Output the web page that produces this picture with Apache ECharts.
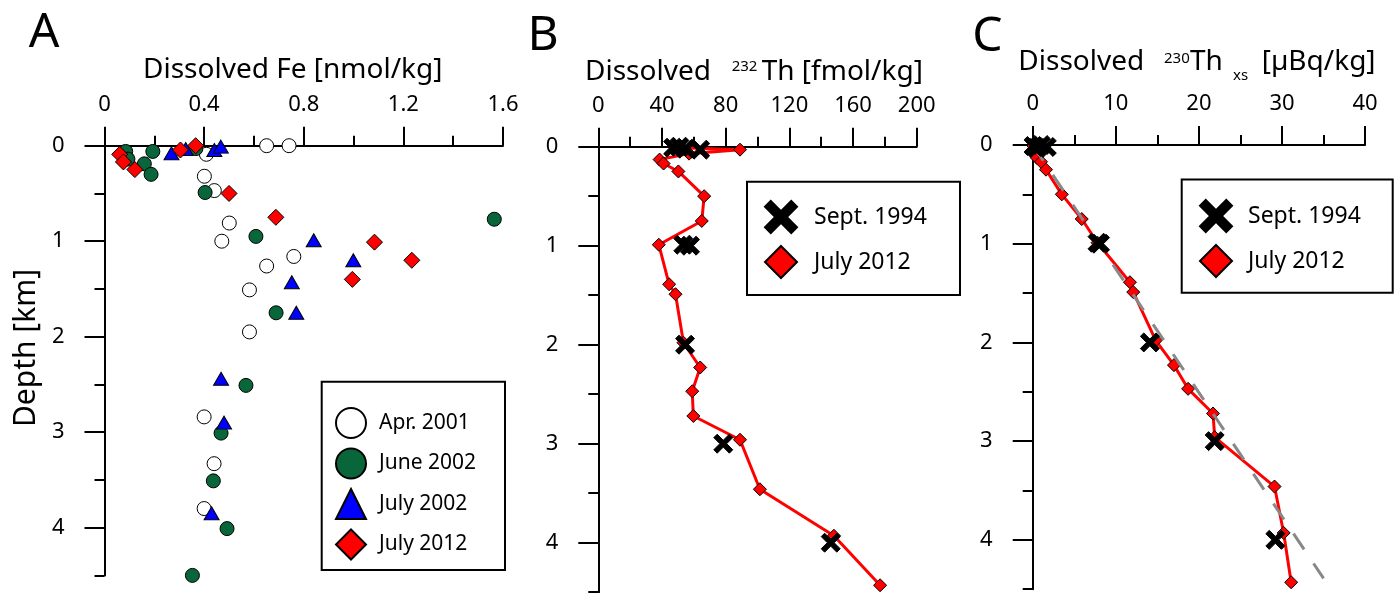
<!DOCTYPE html>
<html>
<head>
<meta charset="utf-8">
<script src="https://cdn.jsdelivr.net/npm/echarts@6/dist/echarts.min.js"></script>
<style>
  html, body { margin: 0; padding: 0; background: #fff; }
  #chart { width: 1394px; height: 593px; }
</style>
</head>
<body>
<div id="chart"></div>
<script>
// Panel A: dissolved Fe (nmol/kg) vs depth (km)
const feApr2001 = [0.651, 0.741, 0.409, 0.401, 0.441, 0.501, 0.471, 0.760, 0.651, 0.582, 0.582, 0.400, 0.440, 0.400];
const depthApr2001 = [0.00, 0.00, 0.09, 0.32, 0.47, 0.81, 1.00, 1.16, 1.26, 1.51, 1.95, 2.84, 3.33, 3.80];
const feJune2002 = [0.085, 0.094, 0.194, 0.160, 0.187, 0.367, 0.404, 1.565, 0.608, 0.689, 0.568, 0.468, 0.437, 0.492, 0.353];
const depthJune2002 = [0.06, 0.14, 0.06, 0.19, 0.30, 0.03, 0.49, 0.77, 0.95, 1.75, 2.51, 3.01, 3.51, 4.01, 4.50];
const feJuly2002 = [0.269, 0.326, 0.441, 0.467, 0.840, 0.999, 0.752, 0.770, 0.468, 0.480, 0.430];
const depthJuly2002 = [0.08, 0.035, 0.045, 0.01, 0.99, 1.20, 1.43, 1.75, 2.44, 2.90, 3.85];
const feJuly2012 = [0.061, 0.076, 0.122, 0.305, 0.366, 0.500, 0.688, 1.084, 1.234, 0.995];
const depthFeJuly2012 = [0.09, 0.17, 0.25, 0.045, 0.00, 0.50, 0.75, 1.01, 1.20, 1.40];

// Panels B and C: 232Th (fmol/kg) and 230Th xs (uBq/kg)
const depth1994 = [0.00, 0.01, 0.02, 0.03, 0.99, 1.00, 2.00, 3.00, 4.00];
const th232_1994 = [51, 47, 55, 64, 53.4, 57.6, 54.5, 78.5, 146];
const th230_1994 = [1.0, 0.1, 1.7, 0.5, 7.8, 8.1, 14.1, 21.9, 29.2];
const depth2012 = [0.01, 0.03, 0.07, 0.13, 0.17, 0.25, 0.50, 0.75, 0.99, 1.39, 1.49, 1.98, 2.23, 2.47, 2.72, 2.96, 3.46, 3.93, 4.43];
const th232_2012 = [52, 89, 57, 38.5, 41, 50.3, 66.5, 65, 38, 44.5, 48.5, 53.5, 64, 59, 59.7, 89, 101.5, 148, 177];
const th230_2012 = [0.1, 0.2, 0.3, 0.5, 1.0, 1.6, 3.5, 5.9, 7.8, 11.7, 12.1, 14.8, 17.0, 18.7, 21.7, 21.9, 29.1, 30.2, 31.1];
// grey dashed reversible-scavenging line in C
const trendTh230 = [0, 35];
const trendDepth = [0, 4.39];

// axis ticks
const depthLabels = [0, 1, 2, 3, 4];

const FONT = 'Noto Sans';
const BLACK = '#000';
const CROSS = 'path://M0,18 L18,0 L50,32 L82,0 L100,18 L68,50 L100,82 L82,100 L50,68 L18,100 L0,82 L32,50 Z';

function pairs(xs, ys) {
  return xs.map((x, i) => [x, ys[i]]);
}

function xAxisFor(grid, max, interval) {
  return {
    gridIndex: grid, type: 'value', position: 'top', min: 0, max: max, interval: interval,
    axisLine: { onZero: false, lineStyle: { color: BLACK, width: 2 } },
    axisTick: { length: 19, lineStyle: { color: BLACK, width: 2 } },
    minorTick: { show: true, splitNumber: 2, length: 10, lineStyle: { color: BLACK, width: 2 } },
    axisLabel: { color: BLACK, fontSize: 22, fontFamily: FONT, margin: 30 },
    splitLine: { show: false }, minorSplitLine: { show: false }
  };
}

// two y axes per grid: long ticks + labels at whole km, short ticks every 0.5 km
function yAxesFor(grid) {
  return [{
    gridIndex: grid, type: 'value', position: 'left', inverse: true, min: 0, max: 4.5, interval: 0.5,
    axisLine: { onZero: false, lineStyle: { color: BLACK, width: 2 } },
    axisTick: { customValues: depthLabels, length: 20, lineStyle: { color: BLACK, width: 2 } },
    axisLabel: { customValues: depthLabels, color: BLACK, fontSize: 22, fontFamily: FONT, margin: 40 },
    splitLine: { show: false }
  }, {
    gridIndex: grid, type: 'value', position: 'left', inverse: true, min: 0, max: 4.5, interval: 0.5,
    axisLine: { show: false },
    axisTick: { length: 10, lineStyle: { color: BLACK, width: 2 } },
    axisLabel: { show: false },
    splitLine: { show: false }
  }];
}

function scatter(name, xi, yi, data, symbol, size, color, z) {
  return {
    name: name, type: 'scatter', xAxisIndex: xi, yAxisIndex: yi, data: data, clip: false,
    symbol: symbol, symbolSize: size, z: z || 2,
    itemStyle: { color: color, borderColor: BLACK, borderWidth: 1, opacity: 1 }
  };
}

function txt(x, y, text, size, align, extra) {
  return Object.assign({
    type: 'text', x: x, y: y,
    style: { text: text, fontSize: size, fontFamily: FONT, fill: BLACK, align: align || 'left', verticalAlign: 'middle' }
  }, extra || {});
}

function box(x, y, w, h) {
  return { type: 'rect', shape: { x: x, y: y, width: w, height: h },
    style: { fill: 'transparent', stroke: BLACK, lineWidth: 2 } };
}

const chart = echarts.init(document.getElementById('chart'), null, { renderer: 'canvas' });

const option = {
  animation: false,
  grid: [
    { left: 104.5, top: 145.7, width: 398.5, height: 429.7 },
    { left: 598.3, top: 146.7, width: 318.4, height: 445.5 },
    { left: 1032.7, top: 145, width: 332.4, height: 444.2 }
  ],
  xAxis: [xAxisFor(0, 1.6, 0.4), xAxisFor(1, 200, 40), xAxisFor(2, 40, 10)],
  yAxis: [].concat(yAxesFor(0), yAxesFor(1), yAxesFor(2)),
  legend: [{
    orient: 'vertical', left: 335, top: 407, padding: 0, itemWidth: 30, itemHeight: 30, itemGap: 8.5,
    textStyle: { fontSize: 21, fontFamily: FONT, color: BLACK, padding: [0, 0, 0, 8] },
    data: ['Apr. 2001', 'June 2002', 'July 2002', 'July 2012']
  }, {
    orient: 'vertical', left: 764, top: 200, padding: 0, itemWidth: 32, itemHeight: 32, itemGap: 11,
    textStyle: { fontSize: 23, fontFamily: FONT, color: BLACK, padding: [0, 0, 0, 12] },
    data: ['Sept. 1994', 'July 2012']
  }, {
    orient: 'vertical', left: 1199, top: 199, padding: 0, itemWidth: 32, itemHeight: 32, itemGap: 11,
    textStyle: { fontSize: 23, fontFamily: FONT, color: BLACK, padding: [0, 0, 0, 11] },
    data: ['Sept. 1994', 'July 2012']
  }],
  series: [
    // A
    scatter('Apr. 2001', 0, 0, pairs(feApr2001, depthApr2001), 'circle', 14, '#ffffff'),
    scatter('June 2002', 0, 0, pairs(feJune2002, depthJune2002), 'circle', 14, '#08663a'),
    scatter('July 2002', 0, 0, pairs(feJuly2002, depthJuly2002), 'triangle', [15, 13], '#0000ff'),
    scatter('July 2012', 0, 0, pairs(feJuly2012, depthFeJuly2012), 'diamond', 16, '#ff0000'),
    // B
    {
      name: 'July 2012 profile B', type: 'line', xAxisIndex: 1, yAxisIndex: 2, clip: false,
      data: pairs(th232_2012, depth2012), showSymbol: false, symbol: 'none',
      lineStyle: { color: '#ff0000', width: 3 }
    },
    scatter('July 2012', 1, 2, pairs(th232_2012, depth2012), 'diamond', 13, '#ff0000', 3),
    scatter('Sept. 1994', 1, 2, pairs(th232_1994, depth1994), CROSS, 19, BLACK, 5),
    // C
    {
      name: 'July 2012 profile C', type: 'line', xAxisIndex: 2, yAxisIndex: 4, clip: false,
      data: pairs(th230_2012, depth2012), showSymbol: false, symbol: 'none',
      lineStyle: { color: '#ff0000', width: 3 }
    },
    scatter('July 2012', 2, 4, pairs(th230_2012, depth2012), 'diamond', 13, '#ff0000', 3),
    {
      name: 'scavenging model', type: 'line', xAxisIndex: 2, yAxisIndex: 4, clip: false, z: 4,
      data: pairs(trendTh230, trendDepth), showSymbol: false, symbol: 'none',
      lineStyle: { color: '#888888', width: 3, type: [19, 17] }
    },
    scatter('Sept. 1994', 2, 4, pairs(th230_1994, depth1994), CROSS, 19, BLACK, 5)
  ],
  graphic: [
    txt(44, 33, 'A', 48, 'center'),
    txt(543, 36, 'B', 48, 'center'),
    txt(987.5, 37.5, 'C', 48, 'center'),
    txt(143, 70, 'Dissolved Fe [nmol/kg]', 28),
    txt(585, 71.7, 'Dissolved', 28),
    txt(731.7, 66.7, '232', 15),
    txt(761.7, 71.7, 'Th [fmol/kg]', 28),
    txt(1018.3, 62.5, 'Dissolved', 28),
    txt(1164, 58.5, '230', 15),
    txt(1190, 62.5, 'Th', 28),
    txt(1233, 76, 'xs', 15),
    txt(1261.7, 62.5, '[µBq/kg]', 28),
    txt(26, 348, 'Depth [km]', 30, 'center', { rotation: Math.PI / 2 }),
    box(321.7, 381.7, 183.3, 188.3),
    box(747, 181.7, 213, 113.3),
    box(1181.7, 179.5, 211, 113.2)
  ]
};

chart.setOption(option);
</script>
</body>
</html>
